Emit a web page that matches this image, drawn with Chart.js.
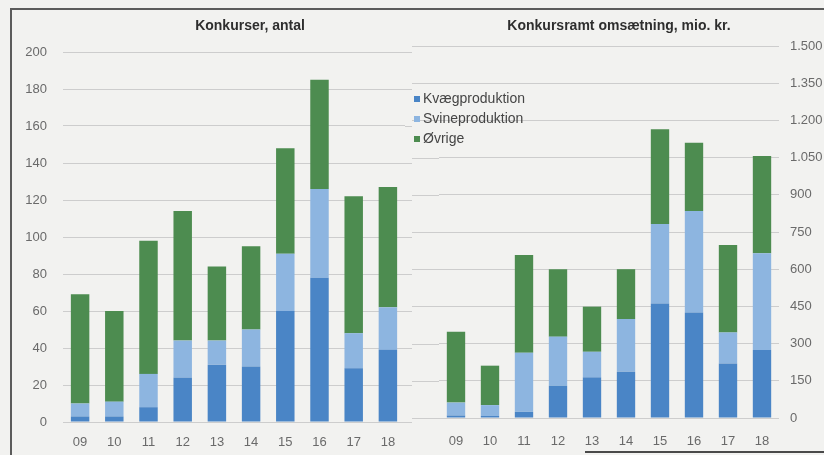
<!DOCTYPE html>
<html>
<head>
<meta charset="utf-8">
<script src="https://cdn.jsdelivr.net/npm/chart.js@4.4.0/dist/chart.umd.min.js"></script>
<style>
    body { margin: 0; background: #f2f2f0; font-family: 'Liberation Sans', Arial, sans-serif; }
    #wrap { position: relative; width: 824px; height: 455px; overflow: hidden; }
    .frame { position: absolute; left: 10px; top: 8px; width: 830px; height: 460px; border-top: 2px solid #5b5b5b; border-left: 2px solid #5b5b5b; }
    .foot { position: absolute; left: 585px; top: 451px; width: 239px; height: 2px; background: #4a4a4a; }
    canvas { position: absolute; top: 0; }
    #left { left: 0; }
    #right { left: 412px; }
    .title { position: absolute; top: 17px; font-weight: bold; font-size: 14px; color: #2e2e2e; transform: translateX(-50%); white-space: nowrap; }
    #legend { position: absolute; left: 414px; top: 88px; font-size: 14px; color: #454545; }
    #legend div { height: 20px; line-height: 20px; white-space: nowrap; }
    #legend span { display: inline-block; width: 6px; height: 6px; margin-right: 3px; vertical-align: 1px; }
</style>
</head>
<body>
<div id="wrap">
    <div class="frame"></div>
    <div class="foot"></div>
    <canvas id="left" width="412" height="455"></canvas>
    <canvas id="right" width="412" height="455"></canvas>
    <div class="title" style="left:250px">Konkurser, antal</div>
    <div class="title" style="left:619px">Konkursramt omsætning, mio. kr.</div>
    <div id="legend"></div>
</div>
<script>
(function () {
    'use strict';

    var years = ['09', '10', '11', '12', '13', '14', '15', '16', '17', '18'];
    var seriesNames = ['Kvægproduktion', 'Svineproduktion', 'Øvrige'];

    // Konkurser, antal
    var antalKvaeg = [3, 3, 8, 24, 31, 30, 60, 78, 29, 39];
    var antalSvine = [7, 8, 18, 20, 13, 20, 31, 48, 19, 23];
    var antalOevrige = [59, 49, 72, 70, 40, 45, 57, 59, 74, 65];

    // Konkursramt omsætning, mio. kr.
    var omsKvaeg = [10, 8, 25, 130, 164, 187, 462, 425, 220, 274];
    var omsSvine = [52, 44, 238, 198, 103, 212, 320, 410, 125, 390];
    var omsOevrige = [286, 159, 394, 272, 182, 201, 382, 275, 353, 392];

    var colors = ['#4a85c6', '#8db5e0', '#4d8c50'];
    var gridColor = '#cdcdcd';
    var textColor = '#6a6a6a';
    var font = { family: "'Liberation Sans', Arial, sans-serif", size: 13 };

    // grid lines in the scan run past the plot area
    var gridReach = {
        id: 'gridReach',
        beforeDatasetsDraw: function (chart, args, opts) {
            var y = chart.scales.y;
            var area = chart.chartArea;
            var c = chart.ctx;
            c.save();
            c.strokeStyle = gridColor;
            c.lineWidth = 1;
            y.ticks.forEach(function (t) {
                var py = Math.round(y.getPixelForValue(t.value)) + 0.5;
                if (opts.left) {
                    c.beginPath();
                    c.moveTo(area.left - opts.left, py);
                    c.lineTo(area.left, py);
                    c.stroke();
                }
                if (opts.right) {
                    c.beginPath();
                    c.moveTo(area.right, py);
                    c.lineTo(area.right + opts.right, py);
                    c.stroke();
                }
            });
            c.restore();
        }
    };

    function datasets(values) {
        return values.map(function (v, i) {
            return {
                label: seriesNames[i],
                data: v,
                backgroundColor: colors[i],
                borderWidth: 0,
                barPercentage: 0.54,
                categoryPercentage: 1
            };
        });
    }

    function dots(v) {
        return String(v).replace(/\B(?=(\d{3})+(?!\d))/g, '.');
    }

    new Chart(document.getElementById('left'), {
        type: 'bar',
        data: { labels: years, datasets: datasets([antalKvaeg, antalSvine, antalOevrige]) },
        plugins: [gridReach],
        options: {
            responsive: false,
            animation: false,
            devicePixelRatio: 1,
            layout: { padding: { left: 13, right: 7, top: 52, bottom: 0 } },
            plugins: {
                legend: { display: false },
                tooltip: { enabled: false },
                gridReach: { right: 7 }
            },
            scales: {
                x: {
                    stacked: true,
                    grid: { display: false },
                    border: { display: false },
                    ticks: { color: textColor, font: font, padding: 5 },
                    afterFit: function (s) { s.height = 33; }
                },
                y: {
                    stacked: true,
                    min: 0,
                    max: 200,
                    grid: { color: gridColor, drawTicks: false },
                    border: { display: false },
                    ticks: { stepSize: 20, color: textColor, font: font, padding: 16 },
                    afterFit: function (s) { s.width = 50; }
                }
            }
        }
    });

    var right = new Chart(document.getElementById('right'), {
        type: 'bar',
        data: { labels: years, datasets: datasets([omsKvaeg, omsSvine, omsOevrige]) },
        plugins: [gridReach],
        options: {
            responsive: false,
            animation: false,
            devicePixelRatio: 1,
            layout: { padding: { left: 27, right: 0, top: 46, bottom: 0 } },
            plugins: {
                legend: { display: false },
                tooltip: { enabled: false },
                gridReach: { left: 27 }
            },
            scales: {
                x: {
                    stacked: true,
                    grid: { display: false },
                    border: { display: false },
                    ticks: { color: textColor, font: font, padding: 8 },
                    afterFit: function (s) { s.height = 37; }
                },
                y: {
                    position: 'right',
                    stacked: true,
                    min: 0,
                    max: 1500,
                    grid: { color: gridColor, drawTicks: false },
                    border: { display: false },
                    ticks: {
                        stepSize: 150,
                        color: textColor,
                        font: font,
                        padding: 11,
                        callback: function (v) { return dots(v); }
                    },
                    afterFit: function (s) { s.width = 45; }
                }
            }
        }
    });

    var legend = document.getElementById('legend');
    right.data.datasets.forEach(function (ds) {
        var row = document.createElement('div');
        var sw = document.createElement('span');
        sw.style.background = ds.backgroundColor;
        row.appendChild(sw);
        row.appendChild(document.createTextNode(ds.label));
        legend.appendChild(row);
    });
})();
</script>
</body>
</html>
